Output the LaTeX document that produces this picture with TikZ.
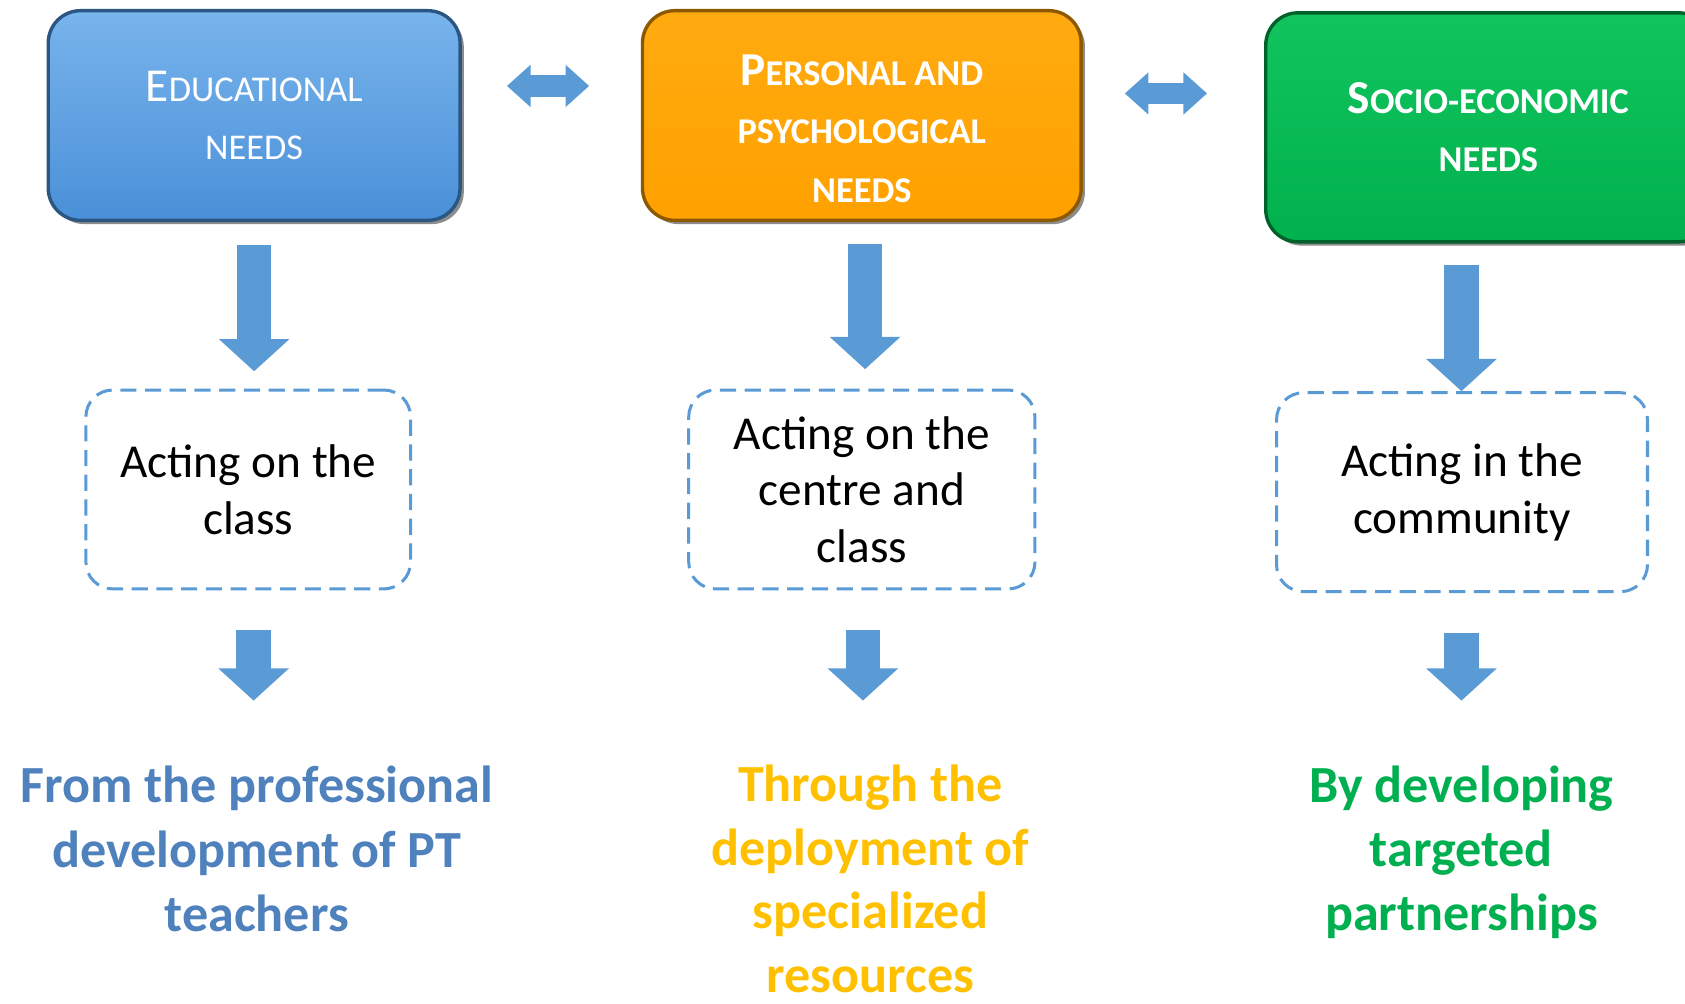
\documentclass[tikz,border=0pt]{standalone}
\usepackage{fontspec}
\setmainfont{Carlito}
\usepackage{tikz}
\usetikzlibrary{positioning,arrows.meta,shadows}
\definecolor{arrblue}{HTML}{5B9BD5}
\definecolor{edutop}{HTML}{78B4EC}
\definecolor{edubot}{HTML}{4A90D8}
\definecolor{perstop}{HTML}{FFAB10}
\definecolor{persbot}{HTML}{FFA100}
\definecolor{sociotop}{HTML}{12C45E}
\definecolor{sociobot}{HTML}{00B14D}
\definecolor{txtblue}{HTML}{4F81BD}
\definecolor{txtgold}{HTML}{FFC000}
\definecolor{txtgreen}{HTML}{00B050}
\newcommand{\fsc}[2]{{\fontsize{12.5}{15}\selectfont #1}{\fontsize{9.6}{15}\selectfont #2}}
\tikzset{
	needbox/.style={draw, rounded corners=3mm, line width=.9pt, text=white, align=center,
		drop shadow={shadow xshift=.35mm, shadow yshift=-.35mm, opacity=.45, fill=black}},
	actbox/.style={draw=arrblue, dash pattern=on 1.5mm off .8mm, line width=.8pt, rounded corners=2.5mm,
		align=center, font=\fontsize{12.5}{15}\selectfont},
	outtext/.style={align=center, font=\bfseries\fontsize{13.8}{17}\selectfont},
	dnarrow/.style={arrblue, line width=3.2mm, -{Triangle[width=6.4mm, length=3mm]}},
	dblarrow/.style={arrblue, line width=2mm, {Triangle[width=3.8mm, length=2.2mm]}-{Triangle[width=3.8mm, length=2.2mm]}},
	>=latex
}

\begin{document}
\begin{tikzpicture}[x=0.01cm, y=-0.01cm]
		\useasboundingbox (0,0) rectangle (1568,934);
		
		% top row
		\node [needbox, top color=edutop, bottom color=edubot, draw=edubot!60!black, minimum width=38.3mm, minimum height=19.5mm] (edu) at (236.5,107.5) {\fsc{E}{DUCATIONAL}\\[1.2mm]\fsc{}{NEEDS}};
		\node [needbox, top color=perstop, bottom color=persbot, draw=persbot!55!black, minimum width=40.8mm, minimum height=19.5mm, font=\bfseries] (pers) at (802,107.5) {\rule{0pt}{5.3mm}\fsc{P}{ERSONAL AND}\\[1.2mm]\fsc{}{PSYCHOLOGICAL}\\[1.2mm]\fsc{}{NEEDS}};
		\node [needbox, top color=sociotop, bottom color=sociobot, draw=sociobot!55!black, minimum width=41.4mm, minimum height=21.3mm, font=\bfseries] (socio) at (1385,118.5) {\fsc{S}{OCIO-ECONOMIC}\\[1.2mm]\fsc{}{NEEDS}};
		
		% middle row
		\node [actbox, minimum width=30.2mm, minimum height=18.5mm] (actcls) at (231,455.5) {Acting on the\\class};
		\node [actbox, minimum width=32.2mm, minimum height=18.5mm] (actcen) at (802,455.5) {Acting on the\\centre and\\class};
		\node [actbox, minimum width=34.5mm, minimum height=18.5mm] (actcom) at (1360.5,458) {Acting in the\\community};
		
		% bottom row
		\node [outtext, text=txtblue] (fromprof) at (239,790) {From the professional\\development of PT\\teachers};
		\node [outtext, text=txtgold, font=\bfseries\fontsize{13.8}{16.8}\selectfont] (through) at (810,818) {Through the\\deployment of\\specialized\\resources};
		\node [outtext, text=txtgreen] (bydev) at (1360,793) {By developing\\targeted\\partnerships};
		
		\coordinate (tipcls) at (236,652);
		\coordinate (tipcen) at (803,652);
		\coordinate (tipcom) at (1360,652);
		
		\draw [dblarrow, shorten <=4.2mm, shorten >=4.8mm] ([yshift=2.75mm]edu.east) -- ([yshift=2.75mm]edu.east -| pers.west);
		\draw [dblarrow, shorten <=3.9mm, shorten >=5.3mm] ([yshift=2.05mm]pers.east) -- ([yshift=2.05mm]pers.east -| socio.west);
		
		\draw [dnarrow, shorten <=2.1mm, shorten >=1.6mm] (edu.south) -- (edu.south |- actcls.north);
		\draw [dnarrow, shorten <=2mm, shorten >=1.8mm] ([xshift=.3mm]pers.south) -- ([xshift=.3mm]pers.south |- actcen.north);
		\draw [dnarrow, shorten <=2mm] ([xshift=-2.5mm]socio.south) -- ([xshift=-2.5mm]socio.south |- actcom.north);
		
		\draw [dnarrow, shorten <=3.7mm] (actcls.south -| tipcls) -- (tipcls);
		\draw [dnarrow, shorten <=3.7mm] (actcen.south -| tipcen) -- (tipcen);
		\draw [dnarrow, shorten <=3.7mm] (actcom.south -| tipcom) -- (tipcom);
	\end{tikzpicture}
\end{document}
